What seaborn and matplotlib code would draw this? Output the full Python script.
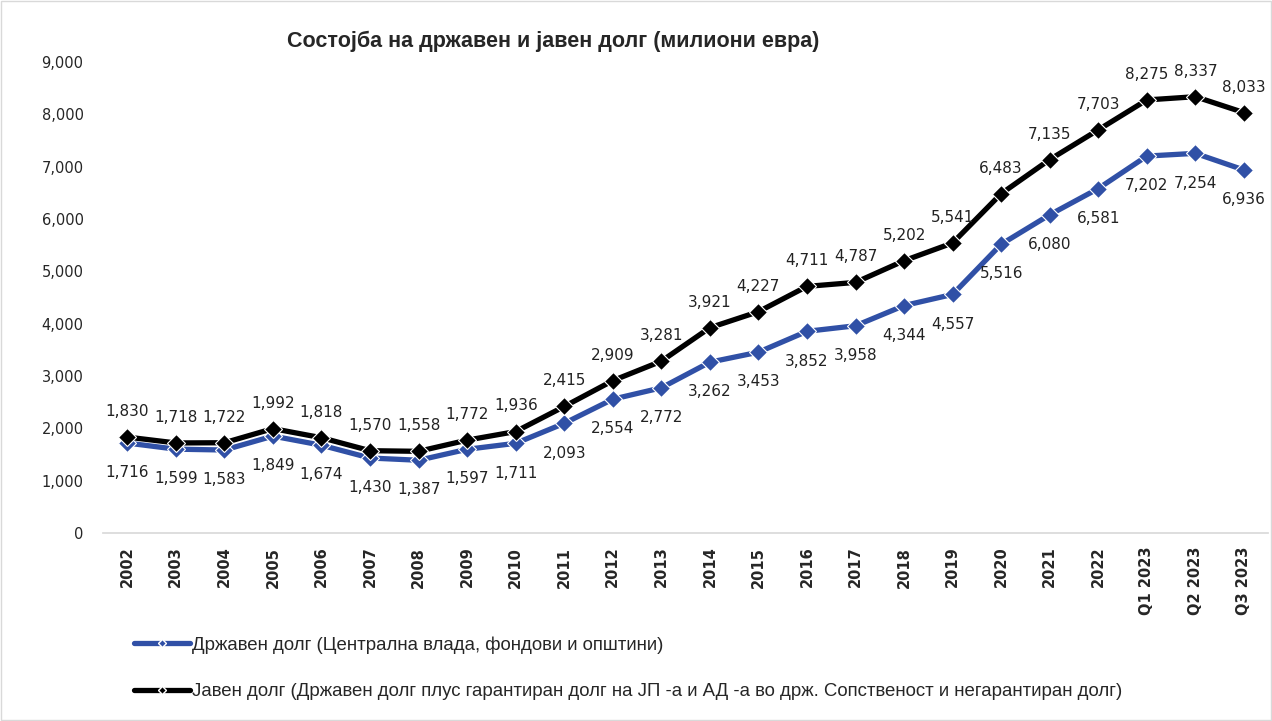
import matplotlib
matplotlib.use("Agg")
import matplotlib.pyplot as plt
import seaborn as sns
import pandas as pd
import numpy as np
from matplotlib.lines import Line2D

periods = ["2002", "2003", "2004", "2005", "2006", "2007", "2008", "2009", "2010",
           "2011", "2012", "2013", "2014", "2015", "2016", "2017", "2018", "2019",
           "2020", "2021", "2022", "Q1 2023", "Q2 2023", "Q3 2023"]
state_debt = [1716, 1599, 1583, 1849, 1674, 1430, 1387, 1597, 1711, 2093, 2554, 2772,
              3262, 3453, 3852, 3958, 4344, 4557, 5516, 6080, 6581, 7202, 7254, 6936]
public_debt = [1830, 1718, 1722, 1992, 1818, 1570, 1558, 1772, 1936, 2415, 2909, 3281,
               3921, 4227, 4711, 4787, 5202, 5541, 6483, 7135, 7703, 8275, 8337, 8033]
label_state = "Државен долг (Централна влада, фондови и општини)"
label_public = "Јавен долг (Државен долг плус гарантиран долг на ЈП -а и АД -а во држ. Сопственост и негарантиран долг)"
title = "Состојба на државен и јавен долг (милиони евра)"

sns.set_theme(style="white")
plt.rcParams['font.family'] = ['DejaVu Sans']

df = pd.DataFrame({"period": periods * 2,
                   "value": state_debt + public_debt,
                   "series": [label_state] * len(periods) + [label_public] * len(periods)})

fig = plt.figure(figsize=(12.72, 7.21), dpi=100)
ax = fig.add_axes([0.081, 0.261, 0.916, 0.653])

blue = "#3050A6"
black = "#000000"
sns.lineplot(data=df, x="period", y="value", hue="series", sort=False,
             palette={label_state: blue, label_public: black},
             marker="D", markersize=9, linewidth=3.8, markeredgecolor="white",
             markeredgewidth=0.8, ax=ax, legend=False)

ax.set_xlim(-0.5, len(periods) - 0.5)
ax.set_ylim(0, 9000)
ax.set_yticks(np.arange(0, 9001, 1000))
ax.set_yticklabels([f"{v:,}" for v in range(0, 9001, 1000)], fontsize=10.5)
ax.set_xticks(range(len(periods)))
ax.set_xticklabels(periods, rotation=90, fontsize=10.5, fontweight="bold")
ax.set_xlabel("")
ax.set_ylabel("")
for s in ["top", "right", "left"]:
    ax.spines[s].set_visible(False)
ax.spines["bottom"].set_color("#d9d9d9")
ax.tick_params(axis="y", length=0, pad=14)
ax.tick_params(axis="x", length=0, pad=10)

for i, v in enumerate(public_debt):
    ax.annotate(f"{v:,}", (i, v), xytext=(0, 13), textcoords="offset points",
                ha="center", va="bottom", fontsize=11, color="#222222")
for i, v in enumerate(state_debt):
    ax.annotate(f"{v:,}", (i, v), xytext=(0, -16), textcoords="offset points",
                ha="center", va="top", fontsize=11, color="#222222")

fig.text(0.435, 0.942, title, ha="center", va="center", fontsize=15.5, fontweight="bold",
         family=["Liberation Sans", "DejaVu Sans"])

handles = [Line2D([], [], color=blue, lw=3.8, marker="D", markersize=4, markeredgecolor="white"),
           Line2D([], [], color=black, lw=3.8, marker="D", markersize=4, markeredgecolor="white")]
fig.legend(handles, [label_state, label_public], loc="upper left",
           bbox_to_anchor=(0.092, 0.141), frameon=False,
           handlelength=3.0, handletextpad=0.15, labelspacing=1.6,
           prop={"family": ["Liberation Sans", "DejaVu Sans"], "size": 13.4})

fig.patches.append(plt.Rectangle((0.001, 0.001), 0.998, 0.998, transform=fig.transFigure,
                                 fill=False, edgecolor="#d9d9d9", lw=1))
fig.savefig("out.png", dpi=100)
